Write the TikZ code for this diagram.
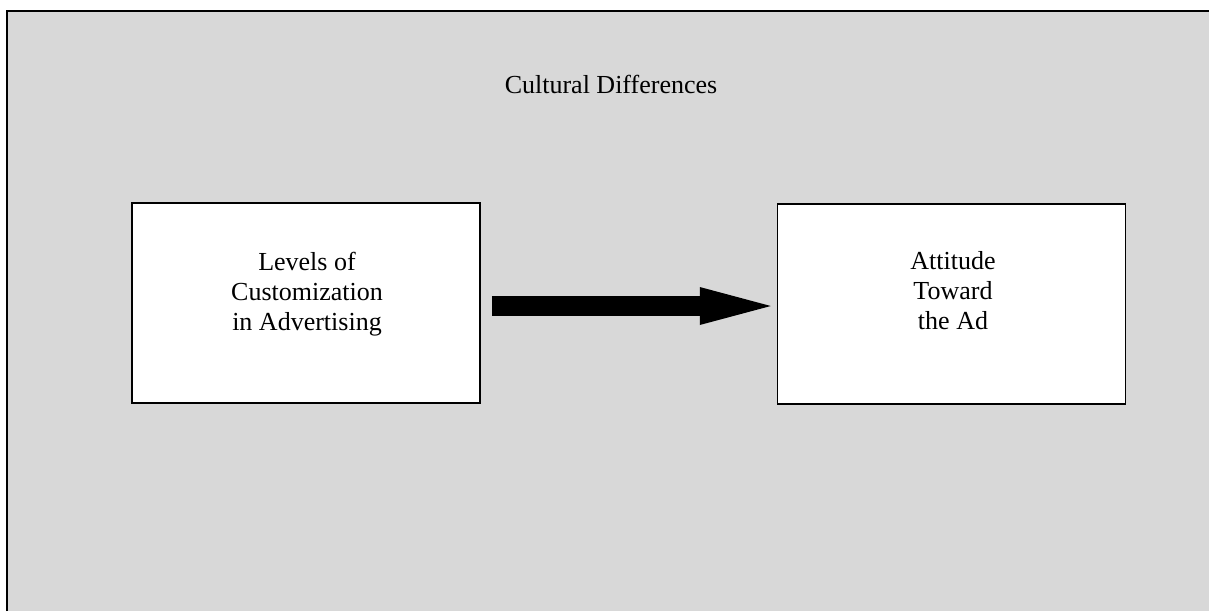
\documentclass[tikz,border=0pt]{standalone}
\usepackage{fontspec}
\setmainfont{Liberation Serif}
\usetikzlibrary{arrows.meta,positioning}
\definecolor{bggray}{RGB}{216,216,216}

\begin{document}
\begin{tikzpicture}[x=1pt,y=-1pt,
    varbox/.style={draw,line width=1.5pt,fill=white,minimum width=348pt,minimum height=200pt,inner sep=0pt},
    vartext/.style={align=center,inner sep=0pt,font=\fontsize{26}{30}\selectfont},
    bigarrow/.style={line width=20pt,-{Triangle[length=71pt,width=38pt,line width=0pt]},shorten <=11pt,shorten >=6pt}]
	    \useasboundingbox (0,0) rectangle (1209,611);
	%Hintergrund
	    \fill[bggray] (7,11) rectangle (1209,611);
	    \draw[line width=2pt] (7,611)--(7,11)--(1209,11);
	    \node[vartext] (cult) at (611,84) {Cultural Differences};
	%Kaesten
	    \node[varbox] (lvl) at (306,303) {};
	    \node[varbox] (att) at (951.5,304) {};
	    \node[vartext] (lvltext) at (307,294) {Levels of\\Customization\\in Advertising};
	    \node[vartext] (atttext) at (953,291) {Attitude\\Toward\\the Ad};
	    \draw[bigarrow] ([yshift=-3pt]lvl.east)--([yshift=-2pt]att.west);
	\end{tikzpicture}
\end{document}
